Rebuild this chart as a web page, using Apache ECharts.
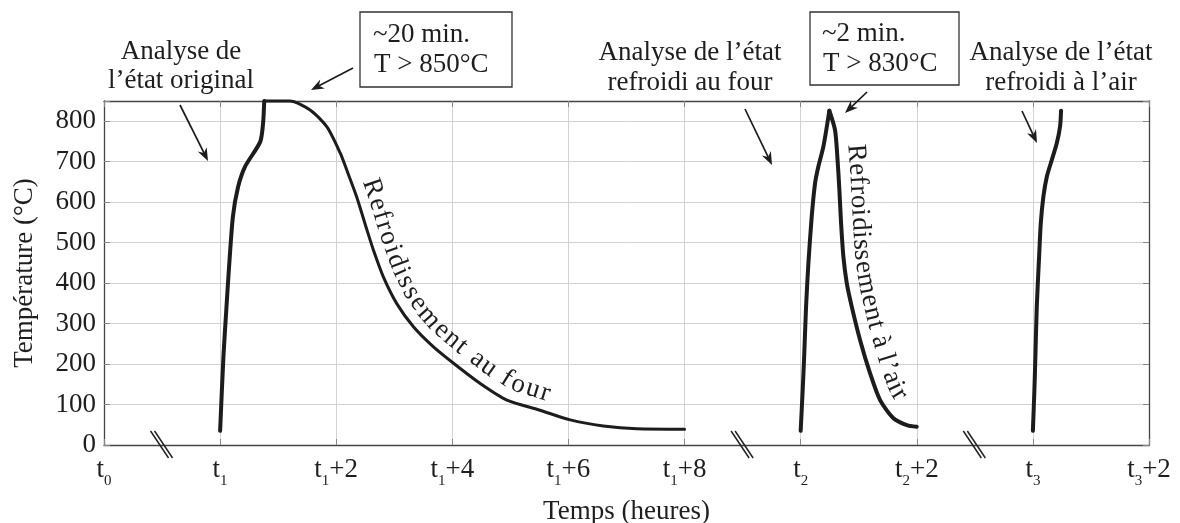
<!DOCTYPE html>
<html><head><meta charset="utf-8">
<script src="https://cdn.jsdelivr.net/npm/echarts@6/dist/echarts.min.js"></script>
<style>html,body{margin:0;padding:0;background:#fff}#c{width:1180px;height:523px}</style>
</head><body><div id="c"></div>
<script>
const FONT = 'Liberation Serif';
const TXT = '#1e1e1e';
const LINE = '#1c1c1c';

// x-axis tick labels: t{sub}{suffix}
const tickSubs = ['0','1','1','1','1','1','2','2','3','3'];
const tickSuffix = ['','','+2','+4','+6','+8','','+2','','+2'];
const breakPositions = [0.5, 5.5, 7.5];
// segment start positions on axis (t1, t2, t3); one axis unit = 2 hours
const segBase = {t1: 1, t2: 6, t3: 8};

// Segment 1: hours after t1
const heat1Hours = [0, 0.057, 0.11, 0.143, 0.22, 0.31, 0.43, 0.69, 0.74, 0.76];
const heat1Temp  = [35, 218, 342, 416, 564, 638, 688, 749, 795, 850];
const cool1Hours = [0.76, 1.20, 1.55, 1.84, 2.07, 2.18, 2.35, 2.53, 2.64, 2.81, 3.04, 3.33, 3.67, 4.02, 4.48, 4.94, 5.51, 6.03, 6.60, 7.18, 8.0];
const cool1Temp  = [850, 850, 828, 786, 721, 680, 614, 531, 482, 416, 350, 292, 243, 202, 152, 111, 86, 62, 47, 40, 39];
// Segment 2: hours after t2
const heat2Hours = [0, 0.035, 0.06, 0.093, 0.133, 0.19, 0.248, 0.305, 0.391, 0.494];
const heat2Temp  = [35, 136, 218, 342, 449, 564, 647, 688, 737, 826];
const cool2Hours = [0.494, 0.592, 0.632, 0.667, 0.696, 0.736, 0.794, 0.88, 1.024, 1.196, 1.368, 1.598, 1.829, 2.0];
const cool2Temp  = [826, 778, 712, 630, 548, 465, 400, 342, 259, 177, 111, 66, 49, 45];
// Segment 3: hours after t3
const heat3Hours = [0, 0.026, 0.043, 0.067, 0.107, 0.136, 0.181, 0.24, 0.325, 0.41, 0.468, 0.485];
const heat3Temp  = [35, 136, 218, 342, 465, 548, 614, 663, 704, 745, 787, 826];

const curveLabel1 = 'Refroidissement au four';
const curveLabel2 = 'Refroidissement à l\u2019air';
const curveLabel1StartHour = 2.27;
const curveLabel2StartHour = 0.615;

const toPairs = (base, hs, ts) => hs.map((h, i) => [base + h / 2, ts[i]]);

const mkSeries = (data, w) => ({
  type: 'line', data, showSymbol: false, symbol: 'none', silent: true, clip: false,
  smooth: 0.25, z: 5,
  lineStyle: {color: LINE, width: w, cap: 'round', join: 'round'}
});

const chart = echarts.init(document.getElementById('c'));
const baseText = {fontFamily: FONT, fontSize: 27, color: TXT};

chart.setOption({
  animation: false,
  textStyle: {fontFamily: FONT},
  grid: {left: 104, right: 31, top: 101, bottom: 78, containLabel: false, outerBoundsMode: 'none'},
  xAxis: [{
    type: 'value', min: 0, max: 9, interval: 1, position: 'bottom',
    axisLine: {show: true, onZero: false, lineStyle: {color: '#444', width: 1.3}},
    axisTick: {show: true, inside: true, length: 6, lineStyle: {color: '#888'}},
    splitLine: {show: true, lineStyle: {color: '#d2d2d2', width: 1}},
    axisLabel: {
      margin: 11, showMinLabel: true, showMaxLabel: true, hideOverlap: false,
      formatter: v => {
        const i = Math.round(v);
        return '{b|t}{s|' + tickSubs[i] + '}' + (tickSuffix[i] ? '{b|' + tickSuffix[i] + '}' : '');
      },
      rich: {
        b: {fontFamily: FONT, fontSize: 27, color: TXT, verticalAlign: 'top', lineHeight: 33},
        s: {fontFamily: FONT, fontSize: 15, color: TXT, verticalAlign: 'bottom', lineHeight: 33}
      }
    },
    name: 'Temps (heures)', nameLocation: 'middle', nameGap: 53,
    nameTextStyle: baseText
  }, {
    type: 'value', min: 0, max: 9, interval: 1, position: 'top',
    axisLine: {show: true, onZero: false, lineStyle: {color: '#444', width: 1.3}},
    axisTick: {show: true, inside: true, length: 6, lineStyle: {color: '#888'}},
    axisLabel: {show: false}, splitLine: {show: false}
  }],
  yAxis: [{
    type: 'value', min: 0, max: 850, interval: 100, position: 'left',
    axisLine: {show: true, onZero: false, lineStyle: {color: '#444', width: 1.3}},
    axisTick: {show: true, inside: true, length: 6, lineStyle: {color: '#888'}},
    splitLine: {show: true, lineStyle: {color: '#d2d2d2', width: 1}},
    axisLabel: Object.assign({margin: 8, formatter: v => (v % 100 === 0 ? String(v) : '')}, baseText),
    name: 'Température (°C)', nameLocation: 'middle', nameRotate: 90, nameGap: 66,
    nameTextStyle: baseText
  }, {
    type: 'value', min: 0, max: 850, interval: 100, position: 'right',
    axisLine: {show: true, onZero: false, lineStyle: {color: '#444', width: 1.3}},
    axisTick: {show: true, inside: true, length: 6, lineStyle: {color: '#888'}},
    axisLabel: {show: false}, splitLine: {show: false}
  }],
  series: [
    mkSeries(toPairs(segBase.t1, heat1Hours, heat1Temp), 4),
    mkSeries(toPairs(segBase.t1, cool1Hours, cool1Temp), 3),
    mkSeries(toPairs(segBase.t2, heat2Hours, heat2Temp), 4),
    mkSeries(toPairs(segBase.t2, cool2Hours, cool2Temp), 4),
    mkSeries(toPairs(segBase.t3, heat3Hours, heat3Temp), 4)
  ]
});

const px = (x, y) => chart.convertToPixel({xAxisIndex: 0, yAxisIndex: 0}, [x, y]);
const g = [];

function arrow(x1, y1, x2, y2) {
  const dx = x2 - x1, dy = y2 - y1, L = Math.hypot(dx, dy), ux = dx / L, uy = dy / L, nx = -uy, ny = ux;
  const len = 13, hw = 5, back = 9;
  const bx = x2 - ux * len, by = y2 - uy * len;
  g.push({type: 'line', shape: {x1, y1, x2: x2 - ux * back, y2: y2 - uy * back}, style: {stroke: LINE, lineWidth: 1.7}, z: 20});
  g.push({type: 'polygon', shape: {points: [[x2, y2], [bx + nx * hw, by + ny * hw], [x2 - ux * back, y2 - uy * back], [bx - nx * hw, by - ny * hw]]}, style: {fill: LINE}, z: 20});
}
function txt(x, y, text, align) {
  g.push({type: 'text', x, y, z: 20, style: {text, fontFamily: FONT, fontSize: 27, fill: TXT,
    textAlign: align || 'center', align: align || 'center', textVerticalAlign: 'middle', verticalAlign: 'middle'}});
}
function box(x, y, w, h) {
  g.push({type: 'rect', shape: {x, y, width: w, height: h}, style: {fill: '#fff', stroke: '#333', lineWidth: 1.3}, z: 19});
}

// break marks
breakPositions.forEach(b => {
  const p = px(b, 0);
  [-2, 2].forEach(o => g.push({type: 'line', z: 20, shape: {x1: p[0] - 9.5 + o, y1: p[1] - 14, x2: p[0] + 8.5 + o, y2: p[1] + 13}, style: {stroke: '#222', lineWidth: 1.5}}));
});

// annotations
txt(181, 52, 'Analyse de');
txt(181, 81, 'l\u2019état original');
arrow(180, 105, 208, 161);

box(360, 12, 152, 75);
txt(373, 35, '~20 min.', 'left');
txt(374, 65, 'T > 850°C', 'left');
arrow(353, 68, 311, 90);

txt(690, 53, 'Analyse de l\u2019état');
txt(690, 83, 'refroidi au four');
arrow(745, 109, 772, 165);

box(810, 12, 149, 73);
txt(822, 34, '~2 min.', 'left');
txt(823, 64, 'T > 830°C', 'left');
arrow(867, 92, 845, 113);

txt(1061, 53, 'Analyse de l\u2019état');
txt(1061, 83, 'refroidi à l\u2019air');
arrow(1022, 111, 1037, 143);

// text along a curve
const measure = document.createElement('canvas').getContext('2d');
measure.font = '27px "' + FONT + '"';
function textAlongPath(pts, startX, text, offset, spacing, W) {
  const dense = [];
  for (let i = 0; i < pts.length - 1; i++) {
    const [x1, y1] = pts[i], [x2, y2] = pts[i + 1];
    const n = Math.max(1, Math.ceil(Math.hypot(x2 - x1, y2 - y1)));
    for (let k = 0; k < n; k++) dense.push([x1 + (x2 - x1) * k / n, y1 + (y2 - y1) * k / n]);
  }
  dense.push(pts[pts.length - 1]);
  const tan = (arr, i, w) => {
    const a = arr[Math.max(0, i - w)], b = arr[Math.min(arr.length - 1, i + w)];
    let tx = b[0] - a[0], ty = b[1] - a[1]; const l = Math.hypot(tx, ty) || 1;
    return [tx / l, ty / l];
  };
  const off = dense.map((p, i) => { const [tx, ty] = tan(dense, i, W); return [p[0] + ty * offset, p[1] - tx * offset]; });
  const cum = [0];
  for (let i = 1; i < off.length; i++) cum.push(cum[i - 1] + Math.hypot(off[i][0] - off[i - 1][0], off[i][1] - off[i - 1][1]));
  let i0 = dense.findIndex(p => p[0] >= startX); if (i0 < 0) i0 = 0;
  let s = cum[i0];
  for (const ch of text) {
    const w = measure.measureText(ch).width + spacing;
    const sm = s + w / 2;
    let j = cum.findIndex(c => c >= sm); if (j < 0) j = cum.length - 1;
    const [tx, ty] = tan(off, j, Math.round(W * 0.7));
    const rot = Math.atan2(-ty, tx);
    if (ch !== ' ') g.push({type: 'text', x: off[j][0], y: off[j][1], rotation: rot, z: 20,
      style: {text: ch, fontFamily: FONT, fontSize: 27, fill: TXT, textAlign: 'center', align: 'center', textVerticalAlign: 'middle', verticalAlign: 'middle'}});
    s += w;
  }
}
const cool1Px = toPairs(segBase.t1, cool1Hours, cool1Temp).map(d => px(d[0], d[1]));
const cool2Px = toPairs(segBase.t2, cool2Hours, cool2Temp).map(d => px(d[0], d[1]));
textAlongPath(cool1Px, px(segBase.t1 + curveLabel1StartHour / 2, 0)[0], curveLabel1, 18, 1.6, 16);
textAlongPath(cool2Px, px(segBase.t2 + curveLabel2StartHour / 2, 0)[0], curveLabel2, 19, 0.6, 30);

chart.setOption({graphic: g});
</script></body></html>
